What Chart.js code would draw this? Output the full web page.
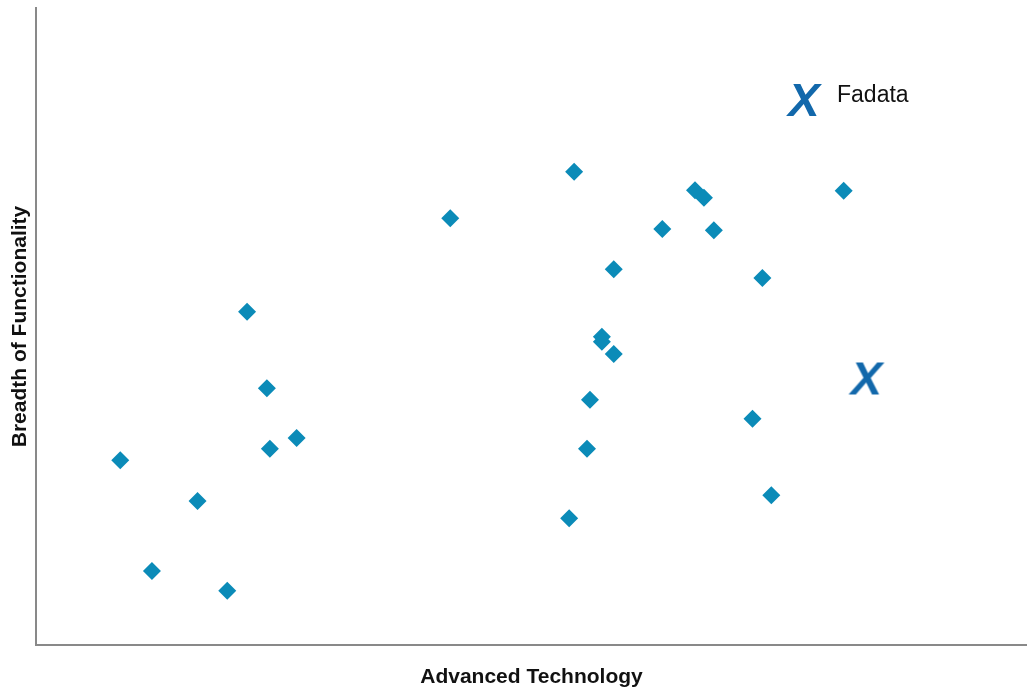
<!DOCTYPE html>
<html>
<head>
<meta charset="utf-8">
<title>Advanced Technology vs Breadth of Functionality</title>
<script src="https://cdn.jsdelivr.net/npm/chart.js@4.4.1/dist/chart.umd.min.js"></script>
<style>
  html, body { margin: 0; padding: 0; background: #ffffff; }
  #wrap { width: 1027px; height: 690px; position: relative; }
</style>
</head>
<body>
<div id="wrap"><canvas id="chart"></canvas></div>
<script>
// Vendor positions: technology (x) and functionality breadth (y), 0–100 scale
const vendorTech = [8.5, 11.7, 16.3, 19.3, 21.3, 23.3, 23.6, 26.3, 41.8, 54.3, 53.8, 55.6, 55.9,
                    57.1, 57.1, 58.3, 58.3, 63.2, 66.5, 67.4, 68.4, 73.3, 72.3, 74.2, 81.5];
const vendorBreadth = [29.0, 11.6, 22.6, 8.5, 52.3, 40.3, 30.8, 32.5, 67.0, 74.3, 19.9, 30.8, 38.5,
                       48.4, 47.6, 45.7, 59.0, 65.3, 71.4, 70.2, 65.1, 57.6, 35.5, 23.5, 71.3];

// Highlighted company
const highlightName = 'Fadata';
const highlightTech = [83.8];
const highlightBreadth = [42.0];

const axisTitles = { x: 'Advanced Technology', y: 'Breadth of Functionality' };

const diamondColor = '#0b8bb8';
const markColor = '#1268ab';
const markFont = 'italic bold 47px "Liberation Sans", Arial, sans-serif';

Chart.defaults.font.family = '"Liberation Sans", Arial, sans-serif';

// Builds the italic "X" glyph used as the highlight marker
function makeMark() {
  const c = document.createElement('canvas');
  c.width = 50; c.height = 50;
  const g = c.getContext('2d');
  g.fillStyle = markColor;
  g.font = markFont;
  g.textAlign = 'center';
  g.textBaseline = 'alphabetic';
  g.fillText('X', 25, 25 + 17);
  return c;
}

function build() {
  const mark = makeMark();

  // Small key in the upper right: glyph + company name
  const keyPlugin = {
    id: 'highlightKey',
    afterDatasetsDraw(chart) {
      const { ctx, chartArea } = chart;
      const cx = Math.round(chartArea.right - 223);
      const cy = Math.round(chartArea.top + 91);
      ctx.save();
      ctx.drawImage(mark, cx - 25, cy - 25);
      ctx.fillStyle = '#111111';
      ctx.font = '23px "Liberation Sans", Arial, sans-serif';
      ctx.textAlign = 'left';
      ctx.textBaseline = 'alphabetic';
      ctx.fillText(highlightName, chartArea.right - 190, chartArea.top + 94);
      ctx.restore();
    }
  };

  const titleFont = { family: '"Liberation Sans", Arial, sans-serif', size: 21, weight: 'bold', lineHeight: 1.2 };
  new Chart(document.getElementById('chart'), {
    type: 'scatter',
    data: {
      datasets: [
        {
          label: 'Vendors',
          data: vendorTech.map((x, i) => ({ x, y: vendorBreadth[i] })),
          pointStyle: 'rectRot',
          pointRadius: 9,
          pointHoverRadius: 9,
          backgroundColor: diamondColor,
          borderWidth: 0
        },
        {
          label: highlightName,
          data: highlightTech.map((x, i) => ({ x, y: highlightBreadth[i] })),
          pointStyle: mark,
          pointRadius: 20,
          backgroundColor: markColor,
          borderWidth: 0
        }
      ]
    },
    options: {
      responsive: true,
      maintainAspectRatio: false,
      animation: false,
      layout: { autoPadding: false, padding: { top: 8, right: 0, bottom: 0, left: 0 } },
      plugins: { legend: { display: false }, tooltip: { enabled: false } },
      scales: {
        x: {
          type: 'linear', min: 0, max: 100,
          ticks: { display: false },
          grid: { display: false, drawTicks: false },
          border: { display: true, color: '#898989', width: 2 },
          title: { display: true, text: axisTitles.x, color: '#111111', font: titleFont, padding: { top: 19.8, bottom: 0 } }
        },
        y: {
          type: 'linear', min: 0, max: 100,
          ticks: { display: false },
          grid: { display: false, drawTicks: false },
          border: { display: true, color: '#898989', width: 2 },
          title: { display: true, text: axisTitles.y, color: '#111111', font: titleFont, padding: { top: 7.5, bottom: 3.3 } }
        }
      }
    },
    plugins: [keyPlugin]
  });
}

if (document.fonts && document.fonts.load) {
  Promise.all([
    document.fonts.load(markFont),
    document.fonts.load('23px "Liberation Sans"'),
    document.fonts.load('bold 21px "Liberation Sans"')
  ]).then(build, build);
} else {
  build();
}
</script>
</body>
</html>
